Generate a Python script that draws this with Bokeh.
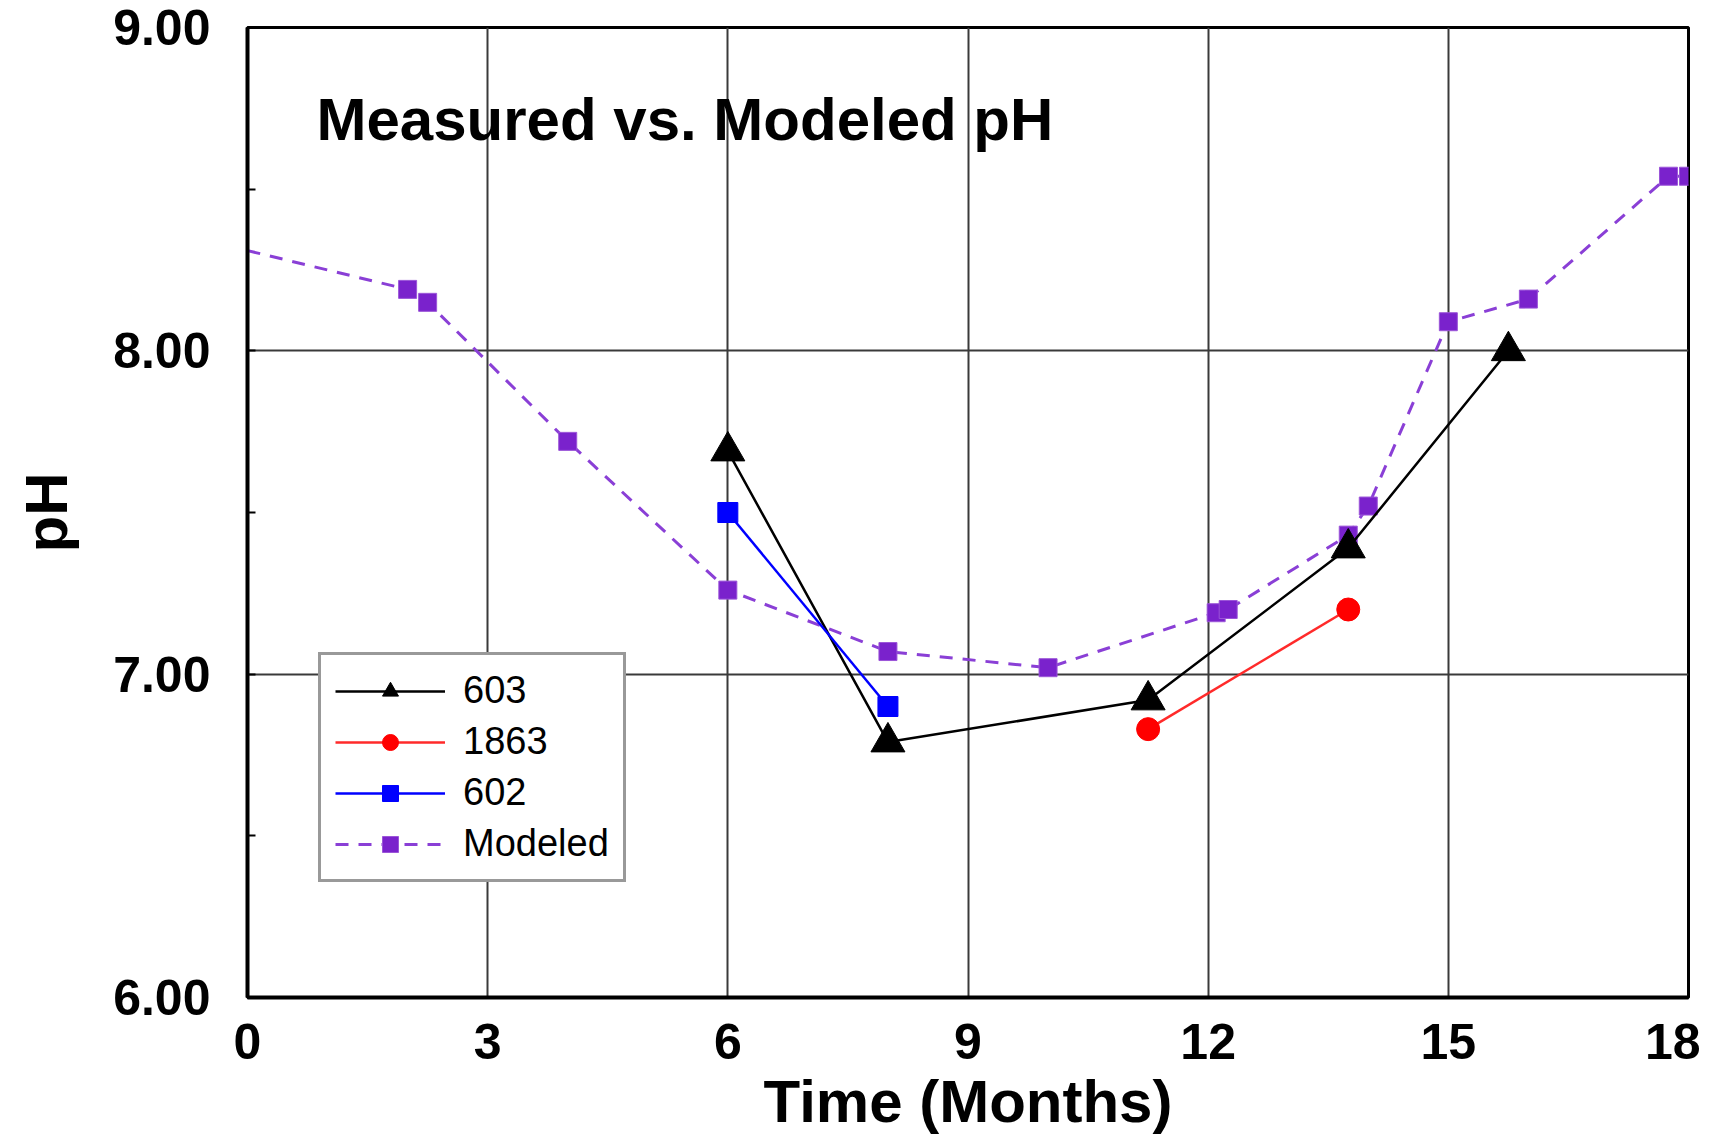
from bokeh.plotting import figure
from bokeh.models import (FixedTicker, NumeralTickFormatter, Legend, LegendItem, Label, Range1d)
from bokeh.embed import file_html
from bokeh.resources import INLINE

# ---- data ----
x_603 = [6, 8, 11.25, 13.75, 15.75]
y_603 = [7.69, 6.79, 6.92, 7.39, 8.0]

x_1863 = [11.25, 13.75]
y_1863 = [6.83, 7.20]

x_602 = [6, 8]
y_602 = [7.50, 6.90]

x_model = [0, 2, 2.25, 4, 6, 8, 10, 12.1, 12.25, 13.75, 14, 15, 16, 17.75, 18]
y_model = [8.31, 8.19, 8.15, 7.72, 7.26, 7.07, 7.02, 7.19, 7.20, 7.43, 7.52, 8.09, 8.16, 8.54, 8.54]

x_ticks = [0, 3, 6, 9, 12, 15, 18]
y_ticks = [6, 7, 8, 9]
y_minor = [6.5, 7.5, 8.5]

title_text = "Measured vs. Modeled pH"
FONT = "Liberation Sans"

p = figure(width=1700, height=1137, output_backend="svg", toolbar_location=None,
           x_range=Range1d(0, 18), y_range=Range1d(6, 9),
           min_border_left=247, min_border_right=12, min_border_top=27, min_border_bottom=100)
p.background_fill_color = "white"
p.border_fill_color = "white"
p.outline_line_color = "black"
p.outline_line_width = 3

# axes
p.xaxis.ticker = FixedTicker(ticks=x_ticks)
p.yaxis.ticker = FixedTicker(ticks=y_ticks, minor_ticks=y_minor)
p.yaxis.formatter = NumeralTickFormatter(format="0.00")
for ax in (p.xaxis, p.yaxis):
    ax.axis_line_color = "black"
    ax.axis_line_width = 4
    ax.major_label_text_font = FONT
    ax.major_label_text_font_style = "bold"
    ax.major_label_text_font_size = "50px"
    ax.major_label_text_color = "black"
    ax.axis_label_text_font = FONT
    ax.axis_label_text_font_style = "bold"
    ax.axis_label_text_color = "black"
    ax.major_tick_out = 0
    ax.minor_tick_out = 0
p.xaxis.major_tick_in = 0
p.xaxis.minor_tick_in = 0
p.yaxis.major_tick_in = 8
p.yaxis.minor_tick_in = 8
p.yaxis.major_tick_line_width = 2
p.yaxis.minor_tick_line_width = 2
p.xaxis.major_label_standoff = 26
p.yaxis.major_label_standoff = 37
p.xaxis.axis_label = "Time (Months)"
p.yaxis.axis_label = "pH"
p.xaxis.axis_label_text_font_size = "60px"
p.yaxis.axis_label_text_font_size = "60px"
p.xaxis.axis_label_standoff = 6
p.yaxis.axis_label_standoff = 30

p.grid.grid_line_color = "#3a3a3a"
p.grid.grid_line_width = 2

# series
r_m_line = p.line(x_model, y_model, line_color="#8a3fd6", line_width=3, line_dash="13 10")
r_m_pts = p.scatter(x_model[1:], y_model[1:], marker="square", size=18,
                    fill_color="#7a22cc", line_color="#9b55d8", line_width=1)

r603_line = p.line(x_603, y_603, line_color="black", line_width=2.5)
r603_pts = p.scatter(x_603, y_603, marker="triangle", size=34, fill_color="black", line_color="black")

r1863_line = p.line(x_1863, y_1863, line_color="#ff2a2a", line_width=2.5)
r1863_pts = p.scatter(x_1863, y_1863, marker="circle", size=23, fill_color="#ff0000", line_color="#ff0000")

r602_line = p.line(x_602, y_602, line_color="#0000ff", line_width=2.5)
r602_pts = p.scatter(x_602, y_602, marker="square", size=20, fill_color="#0000ff", line_color="#0000ff")

legend = Legend(items=[
    LegendItem(label="603", renderers=[r603_line, r603_pts]),
    LegendItem(label="1863", renderers=[r1863_line, r1863_pts]),
    LegendItem(label="602", renderers=[r602_line, r602_pts]),
    LegendItem(label="Modeled", renderers=[r_m_line, r_m_pts]),
], location=(71, 115))
legend.label_text_font = FONT
legend.label_text_font_size = "38px"
legend.label_text_color = "black"
legend.glyph_width = 110
legend.glyph_height = 40
legend.label_height = 40
legend.spacing = 8
legend.padding = 14
legend.margin = 0
legend.label_standoff = 18
legend.border_line_color = "#333333"
legend.border_line_width = 3
legend.background_fill_color = "white"
legend.background_fill_alpha = 1.0
p.add_layout(legend)

title = Label(x=69, y=878, x_units="screen", y_units="screen", text=title_text,
              text_font=FONT, text_font_style="bold", text_font_size="60px",
              text_color="black", text_baseline="alphabetic")
p.add_layout(title)

open("out.html", "w").write(file_html(p, INLINE))
